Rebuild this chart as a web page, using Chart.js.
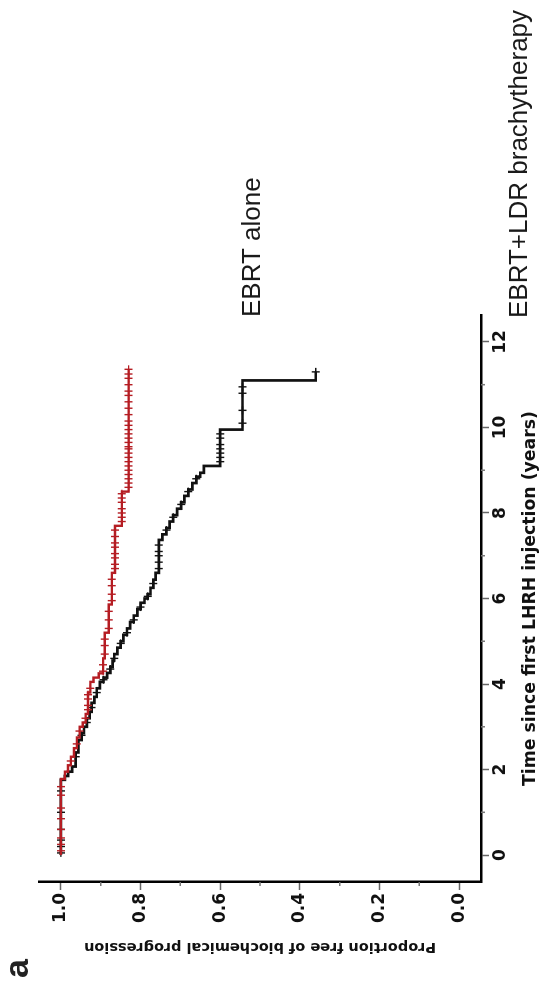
<!DOCTYPE html>
<html>
<head>
<meta charset="utf-8">
<script src="https://cdn.jsdelivr.net/npm/chart.js@4"></script>
<style>
  html, body { margin: 0; padding: 0; background: #fff; overflow: hidden; width: 545px; height: 983px; }
  #wrap { position: absolute; left: 0; top: 0; width: 983px; height: 545px;
          transform-origin: 0 0; transform: translate(0px, 983px) rotate(-90deg); }
</style>
</head>
<body>
<div id="wrap"><canvas id="c" width="983" height="545" style="width:983px;height:545px"></canvas></div>
<script>
// ---- Data ----
const seriesNames = ["EBRT+LDR brachytherapy", "EBRT alone"];
const panelLabel = "a";
const xTitle = "Time since first LHRH injection (years)";
const yTitle = "Proportion free of biochemical progression";

// EBRT+LDR brachytherapy: Kaplan-Meier steps (time, proportion after step)
const redTimes = [0, 1.78, 1.95, 2.1, 2.3, 2.5, 2.75, 3.0, 3.1, 3.3, 3.8, 4.05, 4.15, 4.25, 4.6, 5.2, 5.86, 6.6, 7.7, 8.5, 11.36];
const redSurv  = [1.0, 0.99, 0.982, 0.975, 0.967, 0.96, 0.953, 0.945, 0.938, 0.932, 0.926, 0.918, 0.905, 0.894, 0.89, 0.88, 0.872, 0.864, 0.847, 0.83, 0.83];
const redCensor = [0.1, 0.25, 0.4, 0.6, 0.85, 1.1, 1.4, 1.6, 2.2, 2.6, 2.9, 3.2, 3.4, 3.5, 3.65, 3.75, 3.9,
  4.3, 4.45, 4.7, 4.9, 5.05, 5.3, 5.5, 5.7, 5.95, 6.1, 6.3, 6.45, 6.7, 6.8, 6.95, 7.05, 7.2, 7.3, 7.45, 7.6,
  7.8, 7.9, 8.0, 8.1, 8.25, 8.35, 8.45, 8.6, 8.7, 8.8, 8.9, 9.0, 9.1, 9.2, 9.3, 9.4, 9.5, 9.55, 9.65, 9.75,
  9.85, 9.95, 10.05, 10.15, 10.3, 10.45, 10.6, 10.75, 10.85, 11.0, 11.15, 11.25, 11.36];

// EBRT alone
const blackTimes = [0, 1.76, 1.85, 1.95, 2.07, 2.4, 2.69, 2.85, 3.0, 3.2, 3.35, 3.56, 3.7, 3.9, 4.05, 4.15, 4.26, 4.4, 4.55, 4.7,
  4.85, 5.0, 5.15, 5.3, 5.45, 5.6, 5.75, 5.9, 6.0, 6.1, 6.25, 6.44, 6.6, 7.37, 7.5, 7.65, 7.8, 7.95, 8.1, 8.25,
  8.4, 8.55, 8.7, 8.85, 8.94, 9.1, 9.95, 11.1, 11.3];
const blackSurv = [1.0, 0.99, 0.982, 0.972, 0.963, 0.956, 0.948, 0.942, 0.935, 0.928, 0.923, 0.916, 0.91, 0.902, 0.893, 0.884, 0.876, 0.87, 0.866, 0.858,
  0.85, 0.843, 0.834, 0.826, 0.817, 0.808, 0.8, 0.79, 0.782, 0.775, 0.768, 0.762, 0.754, 0.745, 0.735, 0.727, 0.718, 0.708, 0.698, 0.69,
  0.68, 0.67, 0.66, 0.65, 0.641, 0.60, 0.544, 0.36, 0.36];
const blackCensor = [0.05, 0.2, 0.35, 0.6, 1.0, 1.5, 2.3, 2.8, 3.1, 3.45, 3.8, 4.1, 4.35, 4.6, 4.95, 5.2, 5.5, 5.8, 6.05, 6.35,
  6.7, 6.85, 7.0, 7.1, 7.25, 7.6, 7.9, 8.2, 8.5, 8.8, 9.2, 9.3, 9.4, 9.5, 9.6, 9.75, 9.85, 10.1, 10.4, 10.8, 10.95, 11.3];

const xMajorTicks = [0, 2, 4, 6, 8, 10, 12];
const xMinorTicks = [1, 3, 5, 7, 9, 11];
const yMajorTicks = [0.0, 0.2, 0.4, 0.6, 0.8, 1.0];
const yMinorTicks = [0.1, 0.3, 0.5, 0.7, 0.9];

// ---- helpers ----
function stepValue(times, surv, t) {
  let v = surv[0];
  for (let i = 0; i < times.length; i++) { if (times[i] <= t) v = surv[i]; }
  return v;
}
const pts = (ts, ss) => ts.map((t, i) => ({ x: t, y: ss[i] }));
const censorPts = (cs, ts, ss) => cs.map(t => ({ x: t, y: stepValue(ts, ss, t) }));

const RED = '#b51d23';
const BLACK = '#111111';

const minorTickPlugin = {
  id: 'minorTicks',
  afterDraw(chart) {
    const { ctx, scales: { x, y }, chartArea } = chart;
    ctx.save();
    ctx.strokeStyle = '#777';
    ctx.lineWidth = 1.5;
    ctx.beginPath();
    for (const v of yMinorTicks) {
      const py = y.getPixelForValue(v);
      ctx.moveTo(chartArea.left, py); ctx.lineTo(chartArea.left - 4, py);
    }
    for (const v of xMinorTicks) {
      const px = x.getPixelForValue(v);
      ctx.moveTo(px, chartArea.bottom); ctx.lineTo(px, chartArea.bottom + 4);
    }
    ctx.stroke();
    ctx.restore();
  }
};

const labelPlugin = {
  id: 'curveLabels',
  afterDraw(chart) {
    const { ctx, chartArea } = chart;
    ctx.save();
    ctx.fillStyle = '#1a1a1a';
    ctx.textAlign = 'left';
    ctx.textBaseline = 'alphabetic';
    ctx.font = '26px "Liberation Sans", Arial, sans-serif';
    ctx.fillText(seriesNames[0], chartArea.right - 3, 527);
    ctx.fillText(seriesNames[1], chartArea.right - 2, 260);
    ctx.font = 'bold 34px "Liberation Sans", Arial, sans-serif';
    ctx.fillStyle = '#222';
    ctx.fillText(panelLabel, 5, 28);
    ctx.restore();
  }
};

const tickFont = { family: '"DejaVu Sans", sans-serif', weight: 'bold', size: 17 };

new Chart(document.getElementById('c'), {
  type: 'line',
  data: {
    datasets: [
      { label: seriesNames[0] + ' censored', data: censorPts(redCensor, redTimes, redSurv), showLine: false,
        pointStyle: 'cross', pointRadius: 4, pointBorderWidth: 1.4, borderColor: RED, backgroundColor: RED, order: 0 },
      { label: seriesNames[0], data: pts(redTimes, redSurv), stepped: 'before', borderColor: RED, borderWidth: 2.4,
        pointRadius: 0, fill: false, order: 1 },
      { label: seriesNames[1] + ' censored', data: censorPts(blackCensor, blackTimes, blackSurv), showLine: false,
        pointStyle: 'cross', pointRadius: 4, pointBorderWidth: 1.4, borderColor: BLACK, backgroundColor: BLACK, order: 2 },
      { label: seriesNames[1], data: pts(blackTimes, blackSurv), stepped: 'before', borderColor: BLACK, borderWidth: 2.7,
        pointRadius: 0, fill: false, order: 3 }
    ]
  },
  options: {
    responsive: false,
    devicePixelRatio: 1,
    animation: false,
    events: [],
    layout: { padding: { left: 0, top: 39, right: 315, bottom: 0 } },
    plugins: { legend: { display: false }, tooltip: { enabled: false } },
    scales: {
      x: {
        type: 'linear', min: -0.63, max: 12.63,
        afterFit: s => { s.height = 64; },
        afterBuildTicks: s => { s.ticks = xMajorTicks.map(v => ({ value: v })); },
        ticks: { font: tickFont, color: '#111', padding: 1, maxRotation: 0, callback: v => String(v) },
        grid: { drawOnChartArea: false, drawTicks: true, tickLength: 8, tickColor: '#666', tickWidth: 1.5 },
        border: { display: true, color: '#000', width: 2.5 },
        title: { display: true, text: xTitle, color: '#111', font: { family: '"DejaVu Sans", sans-serif', weight: 'bold', size: 17.3 }, padding: { top: 0, bottom: 4 } }
      },
      y: {
        type: 'linear', min: -0.055, max: 1.055,
        afterFit: s => { s.width = 101; },
        afterBuildTicks: s => { s.ticks = yMajorTicks.map(v => ({ value: v })); },
        ticks: { font: tickFont, color: '#111', padding: 3, callback: v => Number(v).toFixed(1) },
        grid: { drawOnChartArea: false, drawTicks: true, tickLength: 8, tickColor: '#666', tickWidth: 1.5 },
        border: { display: true, color: '#000', width: 2.5 },
        title: { display: true, text: yTitle, color: '#111', font: { family: '"DejaVu Sans", sans-serif', weight: 'bold', size: 14.5 }, padding: { top: 28, bottom: 0 } }
      }
    }
  },
  plugins: [minorTickPlugin, labelPlugin]
});
</script>
</body>
</html>
